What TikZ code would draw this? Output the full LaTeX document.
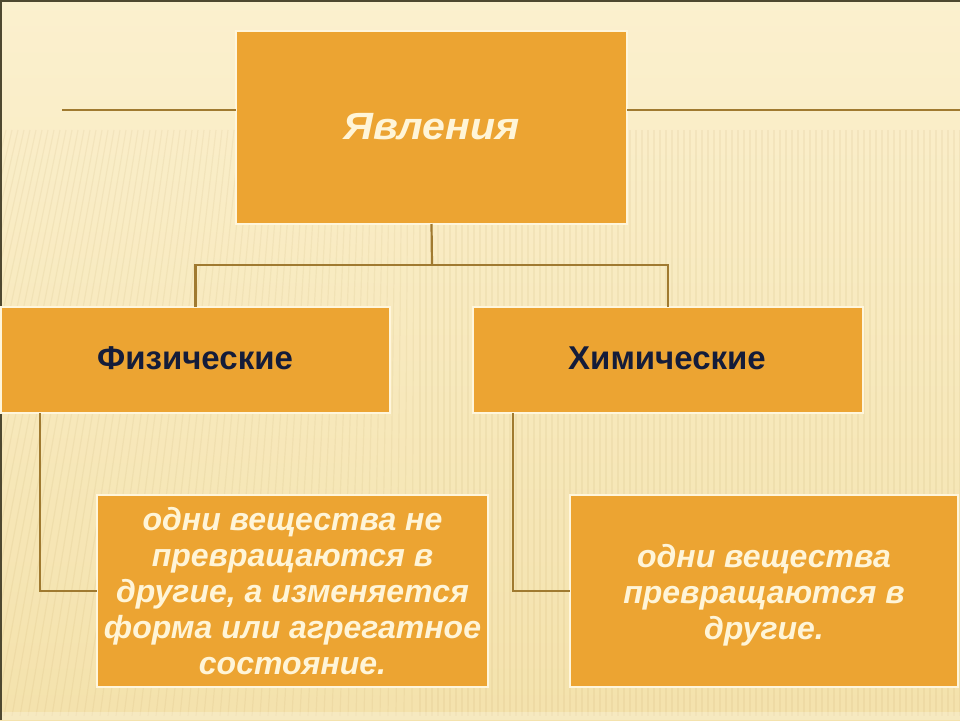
\documentclass[tikz,border=0pt]{standalone}
\usepackage{fontspec}
\setmainfont{Liberation Sans}
\definecolor{bgtop}{RGB}{251,240,206}
\definecolor{bgbot}{RGB}{244,226,172}
\definecolor{boxfill}{RGB}{236,164,50}
\definecolor{boxline}{RGB}{255,246,220}
\definecolor{conn}{RGB}{160,122,48}
\definecolor{navy}{RGB}{20,28,58}
\definecolor{cream}{RGB}{255,245,216}
\definecolor{edge}{RGB}{78,72,48}
\tikzset{
  box/.style={draw=boxline, line width=2pt, fill=boxfill, inner sep=0pt, outer sep=0pt},
  connector/.style={draw=conn, line width=2.2pt},
  stripe/.style={draw=conn, line width=1.2pt, opacity=0.07},
  headtxt/.style={text=cream, xscale=1.08, font=\fontsize{38}{44}\selectfont\bfseries\itshape},
  cattxt/.style={text=navy, font=\fontsize{33}{38}\selectfont\bfseries},
  desctxt/.style={text=cream, align=center, font=\fontsize{32}{36}\selectfont\bfseries\itshape}
}
\begin{document}
\begin{tikzpicture}[x=1pt,y=-1pt]
\useasboundingbox (0,0) rectangle (960,720);
% background
\shade[top color=bgtop, bottom color=bgbot] (0,0) rectangle (960,720);
\foreach \x in {0,6,...,1080} {
  \draw[stripe] (\x,130) -- ({\x - 140*max(0,(420-\x)/420)},716);
}
\fill[white, opacity=0.25] (0,712) rectangle (960,720);
\draw[edge, line width=2pt] (0,1) -- (960,1);
\draw[edge, line width=2pt] (1,0) -- (1,720);

% nodes
\node[box, minimum width=391pt, minimum height=193pt] (top) at (431.5,127.5) {};
\node[headtxt] (toptxt) at (431.5,127) {Явления};

\node[box, minimum width=389pt, minimum height=106pt] (phys) at (195.5,360) {};
\node[cattxt] (phystxt) at (195,358) {Физические};

\node[box, minimum width=390pt, minimum height=106pt] (chem) at (668,360) {};
\node[cattxt] (chemtxt) at (667,358) {Химические};

\node[box, minimum width=391pt, minimum height=192pt] (physd) at (292.5,591) {};
\node[desctxt] (physdtxt) at (292.5,591) {одни вещества не\\превращаются в\\другие, а изменяется\\форма или агрегатное\\состояние.};

\node[box, minimum width=388pt, minimum height=192pt] (chemd) at (764,591) {};
\node[desctxt] (chemdtxt) at (764,595) {одни вещества\\превращаются в\\другие.};

% connectors
\coordinate (bar) at (432,265);
\coordinate (lend) at (62,110);
\coordinate (rend) at (960,110);
\draw[connector] (top.south) -- (bar);
\draw[connector] (phys.north) |- (bar);
\draw[connector] (chem.north) |- (bar);
\draw[connector] (lend) -- (lend -| top.west);
\draw[connector] (top.east |- rend) -- (rend);
\draw[connector] ([xshift=39pt]phys.south west) |- (physd.west);
\draw[connector] ([xshift=40pt]chem.south west) |- (chemd.west);
\end{tikzpicture}
\end{document}
